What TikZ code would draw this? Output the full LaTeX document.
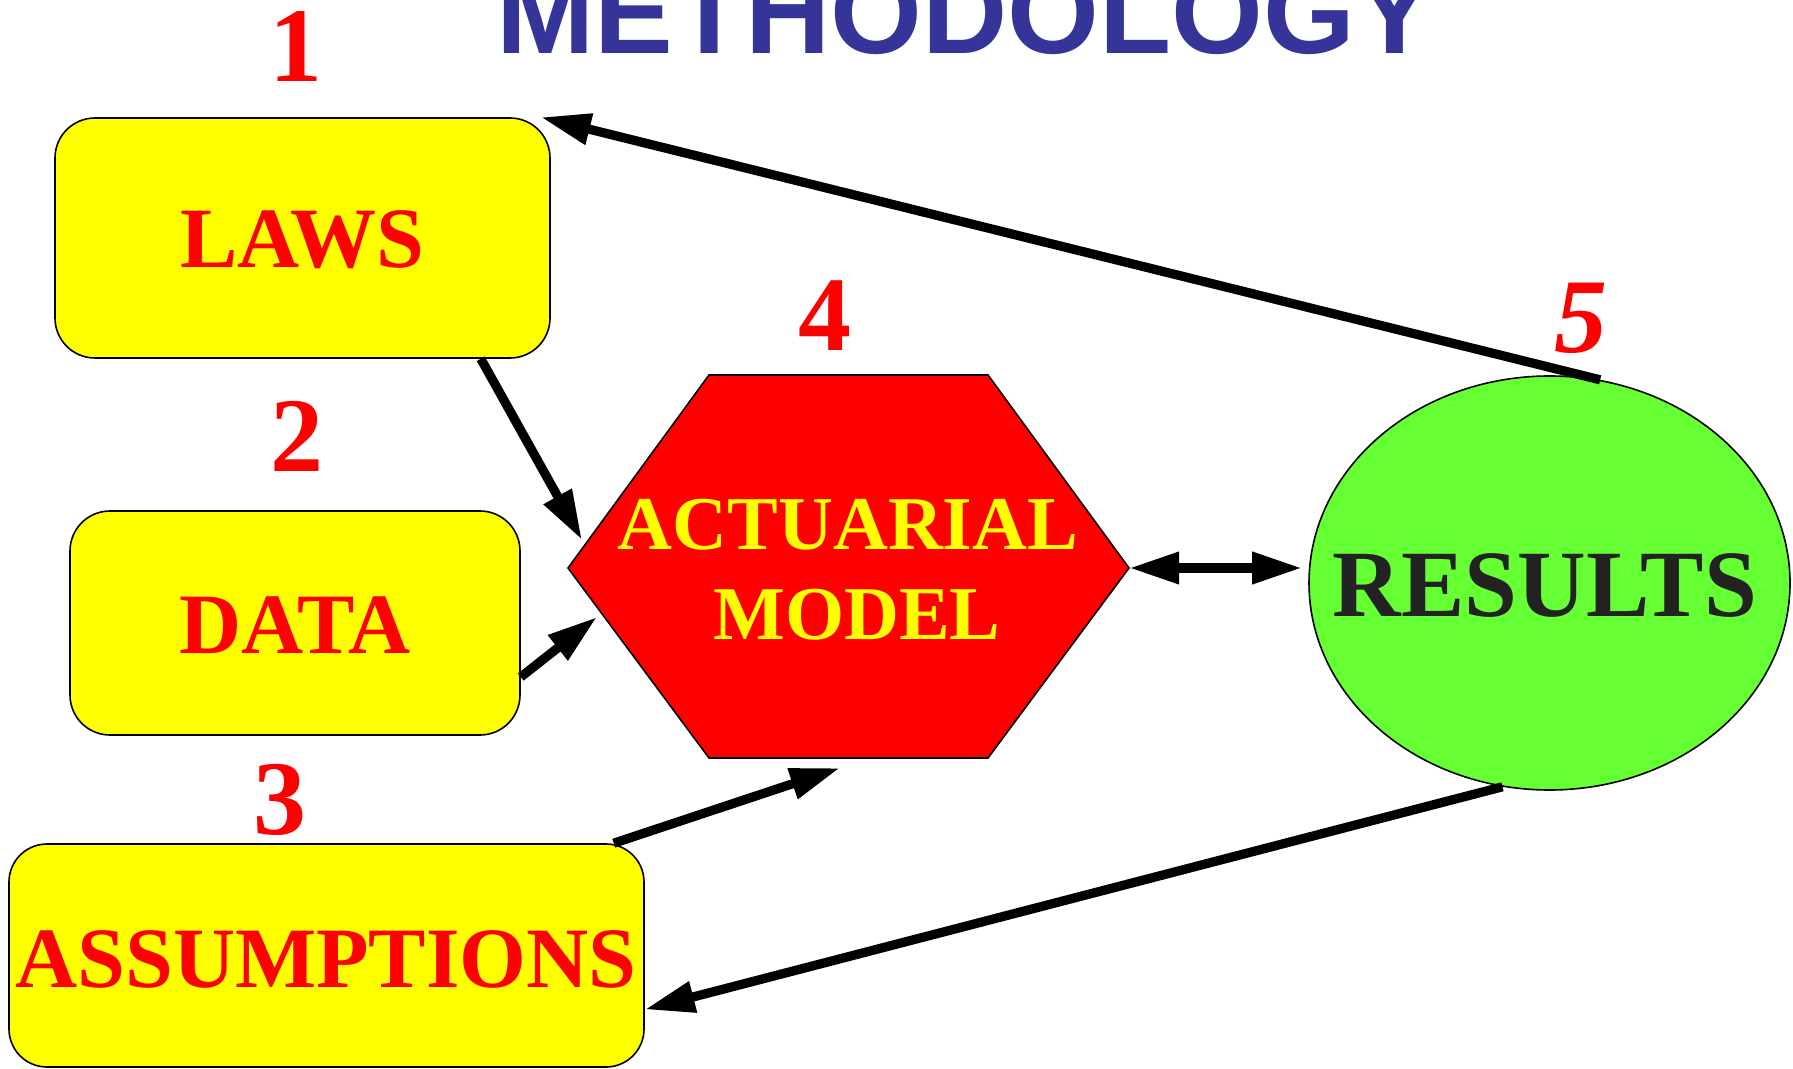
\documentclass[tikz,border=0pt]{standalone}
\usepackage{fontspec}
\setmainfont{Liberation Serif}
\newfontfamily\titlefont{Liberation Sans}
\usetikzlibrary{arrows.meta,shapes.geometric,calc}
\definecolor{titleblue}{RGB}{53,53,153}
\definecolor{resgreen}{RGB}{102,255,51}
\definecolor{resdark}{RGB}{34,34,34}
\definecolor{ylw}{RGB}{255,255,0}
\definecolor{rd}{RGB}{255,0,0}
\begin{document}
\begin{tikzpicture}[x=0.5pt,y=-0.5pt,
  box/.style={draw=black, line width=0.8pt, fill=ylw, rounded corners=20pt, inner sep=0pt},
  lbl/.style={text=rd, inner sep=0pt, font=\bfseries\fontsize{43}{43}\selectfont},
  hexlbl/.style={text=ylw, inner sep=0pt, font=\bfseries\fontsize{38}{38}\selectfont},
  num/.style={text=rd, inner sep=0pt, font=\bfseries\fontsize{53}{53}\selectfont},
  conn/.style={line width=4.6pt, -{Triangle[length=25pt,width=15pt]}},
  dconn/.style={line width=4.8pt, {Triangle[length=25pt,width=15pt]}-{Triangle[length=25pt,width=15pt]}}
]
\useasboundingbox (0,0) rectangle (1793,1069);

% title
\node[anchor=base, inner sep=0pt, text=titleblue, font=\titlefont\bfseries\fontsize{59}{59}\selectfont] (title) at (965,54) {METHODOLOGY};

% boxes
\node[box, minimum width=247.5pt, minimum height=120pt] (laws) at (302.5,238) {};
\node[lbl] (lawst) at (302,240) {LAWS};
\node[box, minimum width=225pt, minimum height=112pt] (data) at (295,623) {};
\node[lbl] (datat) at (295,625) {DATA};
\node[box, minimum width=317.5pt, minimum height=111.5pt, rounded corners=19pt] (assm) at (326.5,955.5) {};
\node[lbl] (assmt) at (326,959) {ASSUMPTIONS};

% hexagon
\coordinate (hL) at (568,568);
\coordinate (hTL) at (709,375);
\coordinate (hTR) at (988,375);
\coordinate (hR) at (1129,568);
\coordinate (hBR) at (988,758);
\coordinate (hBL) at (709,758);
\draw[fill=rd, line width=0.8pt, line join=miter] (hL)--(hTL)--(hTR)--(hR)--(hBR)--(hBL)--cycle;
\node[hexlbl] (act) at (848,525) {ACTUARIAL};
\node[hexlbl] (mod) at (857,615) {MODEL};

% results ellipse
\node[ellipse, draw=black, line width=0.8pt, fill=resgreen, minimum width=240.5pt, minimum height=207pt, inner sep=0pt] (res) at (1549.5,583) {};
\node[text=resdark, inner sep=0pt, font=\bfseries\fontsize{47.5}{47.5}\selectfont] (rest) at (1545,586) {RESULTS};

% numbers
\node[num] (n1) at (296,47) {1};
\node[num] (n2) at (297,436) {2};
\node[num] (n3) at (280,800) {3};
\node[num] (n4) at (825,316) {4};
\node[num, font=\bfseries\itshape\fontsize{53}{53}\selectfont] (n5) at (1581,318) {5};

% arrow end coordinates
\coordinate (t1) at (582,540);
\coordinate (t2) at (597,617);
\coordinate (t3) at (840,768);

% connectors
\draw[conn] (res.76) -- ([xshift=-5pt]laws.north east);
\draw[conn] ([xshift=-35pt]laws.south east) -- (t1);
\draw[conn] ([yshift=-27pt]data.east) -- (t2);
\draw[conn] ([xshift=-15.5pt]assm.north east) -- (t3);
\draw[dconn] (hR) -- ([xshift=-3pt]res.west |- hR);
\draw[conn] (res.257) -- ([yshift=-27pt]assm.east);
\end{tikzpicture}
\end{document}
